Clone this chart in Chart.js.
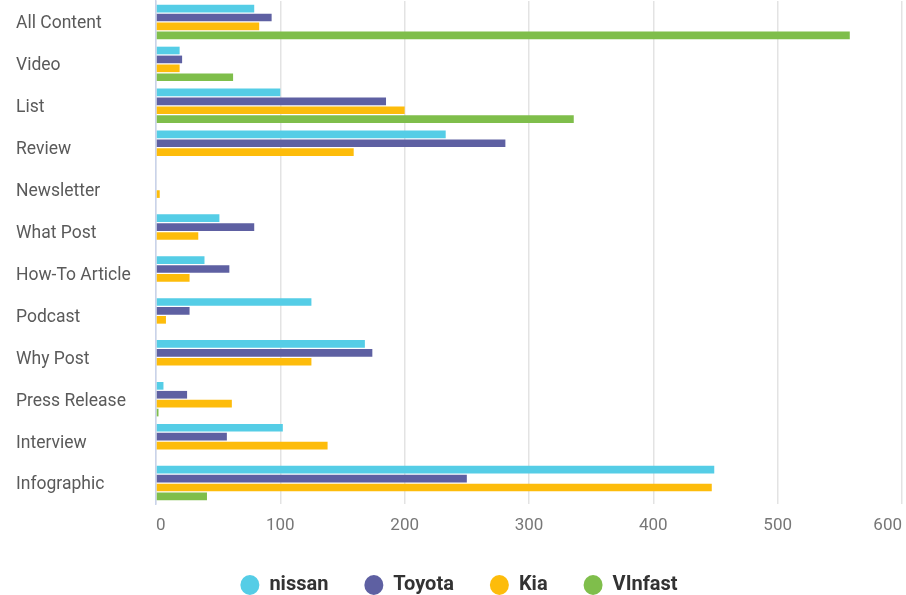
<!DOCTYPE html>
<html>
<head>
<meta charset="utf-8">
<script src="https://cdn.jsdelivr.net/npm/chart.js@4"></script>
<style>
  html, body { margin: 0; padding: 0; background: #fff; }
  #wrap { width: 906px; height: 595px; position: relative; }
</style>
</head>
<body>
<div id="wrap"><canvas id="c" width="906" height="595"></canvas></div>
<script>
const categories = ["All Content", "Video", "List", "Review", "Newsletter", "What Post", "How-To Article", "Podcast", "Why Post", "Press Release", "Interview", "Infographic"];
const nissan  = [79, 19, 100, 233, 0, 51, 39, 125, 168, 6, 102, 449];
const toyota  = [93, 21, 185, 281, 0, 79, 59, 27, 174, 25, 57, 250];
const kia     = [83, 19, 200, 159, 3, 34, 27, 8, 125, 61, 138, 447];
const vinfast = [558, 62, 336, 0, 0, 0, 0, 0, 0, 2, 0, 41];
const seriesNames = ["nissan", "Toyota", "Kia", "VInfast"];
const xTicks = [0, 100, 200, 300, 400, 500, 600];

const colors = ["#55cde6", "#5e60a2", "#fdbc0b", "#7fbe4b"];
const values = [nissan, toyota, kia, vinfast];

Chart.defaults.font.family = "Roboto, 'Noto Sans', sans-serif";

new Chart(document.getElementById('c'), {
  type: 'bar',
  data: {
    labels: categories,
    datasets: seriesNames.map((n, i) => ({
      label: n,
      data: values[i],
      backgroundColor: colors[i],
      borderWidth: 0,
      categoryPercentage: 0.85,
      barPercentage: 0.86
    }))
  },
  options: {
    indexAxis: 'y',
    responsive: false,
    animation: false,
    layout: { padding: { left: 16, right: 4, top: 1, bottom: -10 } },
    scales: {
      x: {
        min: 0, max: 600,
        afterBuildTicks: (s) => { s.ticks = xTicks.map(v => ({ value: v })); },
        afterFit: (s) => { s.height = 35; s.paddingLeft = 0; s.paddingRight = 0; },
        grid: { color: '#e3e3e3', lineWidth: 1.5, drawTicks: false },
        border: { display: false },
        ticks: { align: 'inner', padding: 12, color: '#777', font: { size: 17 } }
      },
      y: {
        afterFit: (s) => { s.width = 140; s.paddingTop = 0; s.paddingBottom = 0; },
        grid: { display: false },
        border: { display: true, color: '#c9d3ea', width: 1.5 },
        ticks: { crossAlign: 'far', color: '#5a5a5a', font: { size: 17.5 }, padding: 0, labelOffset: 2 }
      }
    },
    plugins: {
      legend: {
        position: 'bottom',
        labels: {
          usePointStyle: true,
          pointStyle: 'circle',
          pointStyleWidth: 19,
          boxHeight: 14,
          padding: 36,
          color: '#333',
          font: { size: 20, weight: 'bold' }
        }
      },
      tooltip: { enabled: false }
    }
  }
});
</script>
</body>
</html>
